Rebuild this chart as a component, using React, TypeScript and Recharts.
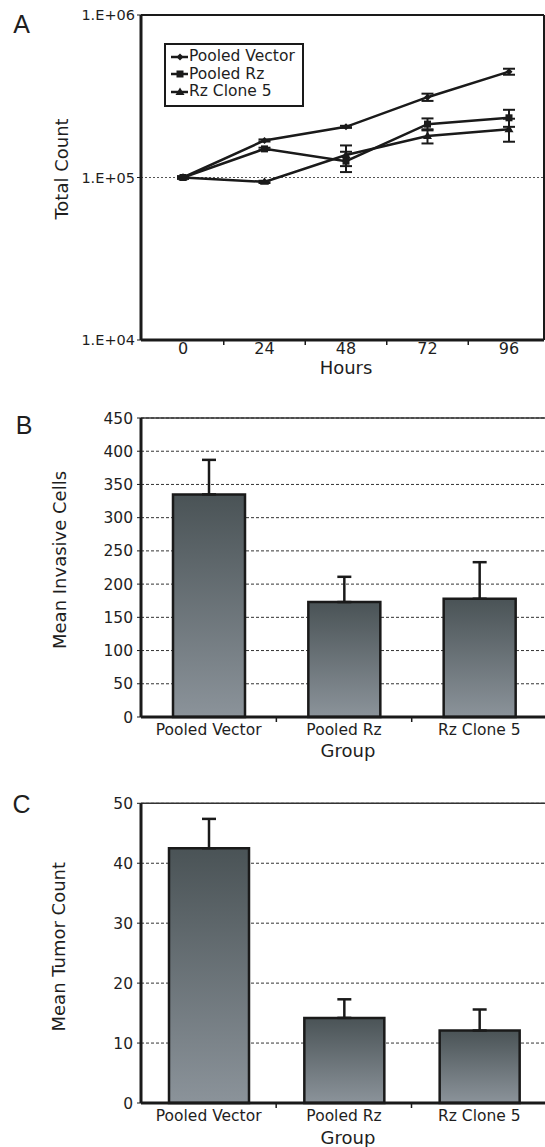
import {
    Bar,
    BarChart,
    CartesianGrid,
    ErrorBar,
    Label,
    Legend,
    Line,
    LineChart,
    ReferenceLine,
    XAxis,
    YAxis,
} from "recharts";

// panel A: growth curve (log scale)
const hours = ["0", "24", "48", "72", "96"];
const pooledVector = [100000, 169000, 205000, 312000, 448000];
const pooledVectorErr = [1500, 2500, 3000, 16000, 19000];
const pooledRz = [100000, 150000, 126000, 213000, 233000];
const pooledRzErr = [1500, 2500, 18000, 18000, 28000];
const rzClone5 = [100000, 94000, 137500, 180000, 198000];
const rzClone5Err = [1500, 1500, 20000, 18000, 32000];
const logTicks = [10000, 100000, 1000000];

// panels B and C: bar charts
const groups = ["Pooled Vector", "Pooled Rz", "Rz Clone 5"];
const invasiveCells = [335, 173, 178];
const invasiveErr = [52, 38, 55];
const invasiveTicks = [0, 50, 100, 150, 200, 250, 300, 350, 400, 450];
const tumorCount = [42.5, 14.2, 12.1];
const tumorErr = [4.9, 3.1, 3.5];
const tumorTicks = [0, 10, 20, 30, 40, 50];

const FONT = '"DejaVu Sans", Verdana, sans-serif';
const INK = "#1a1a1a";

const lineRows = hours.map((h, i) => ({
    hour: h,
    pv: pooledVector[i],
    pvErr: pooledVectorErr[i],
    rz: pooledRz[i],
    rzErr: pooledRzErr[i],
    c5: rzClone5[i],
    c5Err: rzClone5Err[i],
}));

const invasiveRows = groups.map((g, i) => ({ group: g, value: invasiveCells[i], err: [0, invasiveErr[i]] }));
const tumorRows = groups.map((g, i) => ({ group: g, value: tumorCount[i], err: [0, tumorErr[i]] }));

function Diamond({ cx, cy }: any) {
    if (cx == null || cy == null) return null;
    const r = 3.5;
    return <polygon points={`${cx},${cy - r} ${cx + r},${cy} ${cx},${cy + r} ${cx - r},${cy}`} fill={INK} />;
}

function Square({ cx, cy }: any) {
    if (cx == null || cy == null) return null;
    return <rect x={cx - 3.5} y={cy - 3.5} width={7} height={7} fill={INK} />;
}

function Triangle({ cx, cy }: any) {
    if (cx == null || cy == null) return null;
    return <polygon points={`${cx},${cy - 4.5} ${cx + 4.5},${cy + 3} ${cx - 4.5},${cy + 3}`} fill={INK} />;
}

const series = [
    { key: "pv", err: "pvErr", name: "Pooled Vector", Marker: Diamond },
    { key: "rz", err: "rzErr", name: "Pooled Rz", Marker: Square },
    { key: "c5", err: "c5Err", name: "Rz Clone 5", Marker: Triangle },
];

function LegendBox() {
    return (
        <div
            style={{
                border: `2px solid ${INK}`,
                background: "#fff",
                padding: "3px 7px 4px 4px",
                fontFamily: FONT,
                fontSize: 15.5,
                lineHeight: "17.5px",
                color: "#1e1e1e",
                whiteSpace: "nowrap",
            }}
        >
            {series.map((s) => (
                <div key={s.key} style={{ display: "flex", alignItems: "center" }}>
                    <svg width={19} height={12} style={{ flex: "none" }}>
                        <line x1={1} x2={18} y1={6} y2={6} stroke={INK} strokeWidth={2.5} />
                        <s.Marker cx={10} cy={6} />
                    </svg>
                    <span>{s.name}</span>
                </div>
            ))}
        </div>
    );
}

// axis titles at fixed spots; prop names kept clear of the ones Label injects
function VTitle({ tx, ty, text }: { tx: number; ty: number; text: string }) {
    return (
        <text
            x={tx}
            y={ty}
            transform={`rotate(-90 ${tx} ${ty})`}
            textAnchor="middle"
            dominantBaseline="central"
            fontFamily={FONT}
            fontSize={18}
            fill="#1e1e1e"
        >
            {text}
        </text>
    );
}

function HTitle({ tx, ty, text }: { tx: number; ty: number; text: string }) {
    return (
        <text x={tx} y={ty} textAnchor="middle" fontFamily={FONT} fontSize={18} fill="#1e1e1e">
            {text}
        </text>
    );
}

// category label with Excel-style tick marks between categories
function makeTick(half: number, count: number, gap: number, size: number) {
    return function CatTick(props: any) {
        const { x, y, payload, index } = props;
        return (
            <g>
                <text x={x} y={y + gap} dy="0.71em" textAnchor="middle" fontFamily={FONT} fontSize={size} fill="#1e1e1e">
                    {payload.value}
                </text>
                {index < count - 1 && <line x1={x + half} x2={x + half} y1={y} y2={y + 5} stroke={INK} strokeWidth={1.5} />}
            </g>
        );
    };
}

const HourTick = makeTick(40.75, hours.length, 3, 16);
const GroupTickB = makeTick(67.7, groups.length, 6.5, 15.5);
const GroupTickC = makeTick(67.5, groups.length, 6.7, 15.5);

function PanelA() {
    return (
        <LineChart width={545} height={380} data={lineRows} margin={{ top: 15, right: 0, bottom: 0, left: 0 }}>
            <ReferenceLine y={100000} stroke="#555" strokeDasharray="2 2" strokeWidth={1} />
            <ReferenceLine y={1000000} stroke={INK} strokeWidth={2} />
            <XAxis
                dataKey="hour"
                height={40}
                padding={{ left: 42, right: 35 }}
                interval={0}
                tickSize={0}
                tickMargin={0}
                tickLine={false}
                tick={<HourTick />}
                axisLine={{ stroke: INK, strokeWidth: 3 }}
            >
                <Label content={<HTitle tx={346} ty={374} text="Hours" />} />
            </XAxis>
            <YAxis
                scale="log"
                domain={[10000, 1000000]}
                ticks={logTicks}
                allowDataOverflow
                width={141}
                tickFormatter={(v: number) => `1.E+0${Math.round(Math.log10(v))}`}
                tick={{ fontSize: 14.5, fill: "#1e1e1e", fontFamily: FONT }}
                tickSize={4}
                tickMargin={2}
                tickLine={{ stroke: INK }}
                axisLine={{ stroke: INK, strokeWidth: 3 }}
            >
                <Label content={<VTitle tx={61} ty={169} text="Total Count" />} />
            </YAxis>
            <YAxis
                yAxisId="frame"
                orientation="right"
                width={1}
                domain={[0, 1]}
                tick={false}
                tickLine={false}
                axisLine={{ stroke: INK, strokeWidth: 2 }}
            />
            {series.map((s) => (
                <Line
                    key={s.key}
                    type="linear"
                    dataKey={s.key}
                    name={s.name}
                    stroke={INK}
                    strokeWidth={2.5}
                    dot={(p: any) => <s.Marker key={`${s.key}-${p.index}`} cx={p.cx} cy={p.cy} />}
                    activeDot={false}
                    isAnimationActive={false}
                >
                    <ErrorBar dataKey={s.err} direction="y" width={6} stroke={INK} strokeWidth={2} />
                </Line>
            ))}
            <Legend
                layout="vertical"
                align="center"
                verticalAlign="middle"
                wrapperStyle={{ left: 164, top: 43, width: "auto", height: "auto" }}
                content={<LegendBox />}
            />
        </LineChart>
    );
}

function BarPanel({
    rows,
    ticks,
    max,
    top,
    height,
    axisHeight,
    barSize,
    gradId,
    Tick,
    title,
    titleY,
    groupY,
}: any) {
    return (
        <BarChart width={547} height={height} data={rows} margin={{ top, right: 0, bottom: 0, left: 0 }}>
            <defs>
                <linearGradient id={gradId} x1="0" y1="0" x2="0" y2="1">
                    <stop offset="0%" stopColor="#4a5356" />
                    <stop offset="100%" stopColor="#8b939a" />
                </linearGradient>
            </defs>
            <CartesianGrid vertical={false} stroke="#333" strokeDasharray="3 2" strokeWidth={1} />
            <ReferenceLine y={max} stroke="#333" strokeWidth={1.5} />
            <XAxis
                dataKey="group"
                height={axisHeight}
                interval={0}
                tickSize={0}
                tickMargin={0}
                tickLine={false}
                tick={<Tick />}
                axisLine={{ stroke: INK, strokeWidth: 3 }}
            >
                <Label content={<HTitle tx={348} ty={groupY} text="Group" />} />
            </XAxis>
            <YAxis
                domain={[0, max]}
                ticks={ticks}
                width={141}
                interval={0}
                tick={{ fontSize: 15.5, fill: "#1e1e1e", fontFamily: FONT }}
                tickSize={4}
                tickMargin={4}
                tickLine={{ stroke: INK }}
                axisLine={{ stroke: INK, strokeWidth: 3 }}
            >
                <Label content={<VTitle tx={59} ty={titleY} text={title} />} />
            </YAxis>
            <Bar
                dataKey="value"
                barSize={barSize}
                fill={`url(#${gradId})`}
                stroke={INK}
                strokeWidth={2.5}
                isAnimationActive={false}
            >
                <ErrorBar dataKey="err" direction="y" width={7} stroke={INK} strokeWidth={2.5} />
            </Bar>
        </BarChart>
    );
}

export default function App() {
    return (
        <div
            style={{
                position: "absolute",
                left: 0,
                top: 0,
                width: 545,
                height: 1147,
                overflow: "hidden",
                background: "#fff",
            }}
        >
            <svg width={545} height={1147} style={{ position: "absolute", left: 0, top: 0 }}>
                <text x={21.5} y={33} textAnchor="middle" fontFamily='"Liberation Sans", Arial, sans-serif' fontSize={25} fill="#1e1e1e">
                    A
                </text>
                <text x={24} y={434} textAnchor="middle" fontFamily='"Liberation Sans", Arial, sans-serif' fontSize={25} fill="#1e1e1e">
                    B
                </text>
                <text x={21.5} y={813} textAnchor="middle" fontFamily='"Liberation Sans", Arial, sans-serif' fontSize={25} fill="#1e1e1e">
                    C
                </text>
            </svg>
            <div style={{ position: "absolute", left: 0, top: 0 }}>
                <PanelA />
            </div>
            <div style={{ position: "absolute", left: 0, top: 380 }}>
                <BarPanel
                    rows={invasiveRows}
                    ticks={invasiveTicks}
                    max={450}
                    top={38}
                    height={397}
                    axisHeight={60}
                    barSize={72}
                    gradId="gradB"
                    Tick={GroupTickB}
                    title="Mean Invasive Cells"
                    titleY={180}
                    groupY={376.5}
                />
            </div>
            <div style={{ position: "absolute", left: 0, top: 780 }}>
                <BarPanel
                    rows={tumorRows}
                    ticks={tumorTicks}
                    max={50}
                    top={23.3}
                    height={367}
                    axisHeight={44}
                    barSize={80}
                    gradId="gradC"
                    Tick={GroupTickC}
                    title="Mean Tumor Count"
                    titleY={166.7}
                    groupY={364}
                />
            </div>
        </div>
    );
}
